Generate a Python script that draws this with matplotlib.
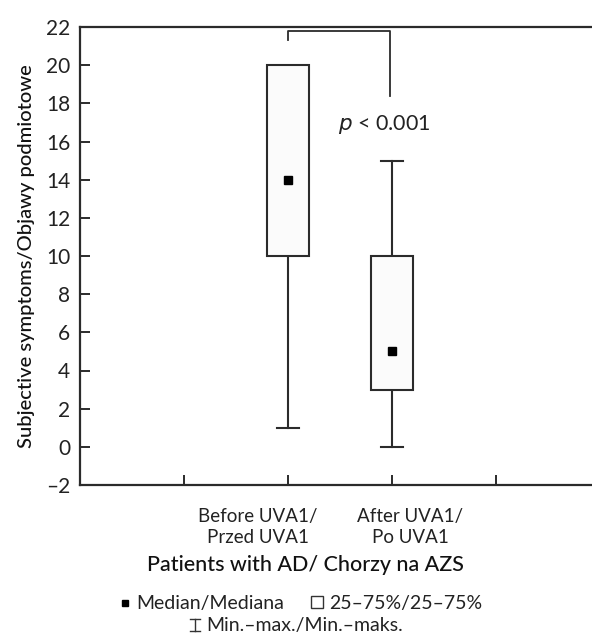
import matplotlib
matplotlib.use("Agg")
import matplotlib.pyplot as plt
import matplotlib.transforms as mtrans
from matplotlib.lines import Line2D
from matplotlib.patches import Rectangle

plt.rcParams['font.family'] = ['Lato', 'DejaVu Sans']

# ---- data ----
categories = ["Before UVA1/\nPrzed UVA1", "After UVA1/\nPo UVA1"]
positions = [2, 3]
q1 = [10, 3]
q3 = [20, 10]
medians = [14, 5]
mins = [1, 0]
maxs = [20, 15]
p_text = "$\\it{p}$ < 0.001"
yticks = list(range(-2, 23, 2))
xticks = [1, 2, 3, 4]

W, H = 592, 639
fig = plt.figure(figsize=(W / 100, H / 100), dpi=100)
ax = fig.add_axes([80 / W, 1 - 485 / H, (W - 80) / W, (485 - 27) / H])

col = "#2b2b2b"
box_w = 0.40
cap_w = 0.21
for x, a, b, m, lo, hi in zip(positions, q1, q3, medians, mins, maxs):
    ax.add_patch(Rectangle((x - box_w / 2, a), box_w, b - a, facecolor="#fbfbfb",
                           edgecolor=col, lw=1.5, zorder=2))
    if lo < a:
        ax.plot([x, x], [lo, a], color=col, lw=1.5, zorder=1)
        ax.plot([x - cap_w / 2, x + cap_w / 2], [lo, lo], color=col, lw=1.5)
    if hi > b:
        ax.plot([x, x], [b, hi], color=col, lw=1.5, zorder=1)
        ax.plot([x - cap_w / 2, x + cap_w / 2], [hi, hi], color=col, lw=1.5)
    ax.plot([x], [m], marker="s", color="black", markersize=6, zorder=3)

# significance bracket
ax.plot([positions[0], positions[0], positions[1] - 0.02, positions[1] - 0.02],
        [21.3, 21.8, 21.8, 18.4], color=col, lw=1.3, clip_on=False)
ax.text(2.93, 16.9, p_text, ha="center", va="center", fontsize=15.5, color="#222222")

ax.set_xlim(0, (W - 80) / 104)
ax.set_ylim(-2, 22)
ax.set_yticks(yticks)
ax.set_yticklabels([str(v) if v >= 0 else "\u2013" + str(-v) for v in yticks])
ax.set_xticks(xticks)
ax.set_xticklabels([])
ax.tick_params(axis="both", direction="in", length=7, width=1.4, color=col,
               labelsize=15, labelcolor="#222222")
ax.tick_params(axis="y", pad=7)
for s in ["left", "bottom", "top"]:
    ax.spines[s].set_linewidth(1.6)
    ax.spines[s].set_color(col)
ax.spines["right"].set_visible(False)

# category labels
offsets = [-30, 18]
for x, lab, dx in zip(positions, categories, offsets):
    tr = ax.get_xaxis_transform() + mtrans.ScaledTranslation(dx / 100, 0, fig.dpi_scale_trans)
    ax.text(x, -0.05, lab, transform=tr, ha="center", va="top", fontsize=13.5,
            color="#222222", linespacing=1.3)

ax.set_ylabel("Subjective symptoms/Objawy podmiotowe", fontsize=14.5, color="#111111",
              labelpad=8, fontweight="medium")

fig.text(305 / W, 1 - 565 / H, "Patients with AD/ Chorzy na AZS", ha="center",
         va="center", fontsize=15.5, color="#111111", fontweight="medium")

# legend (manual)
fig.add_artist(Line2D([125 / W], [1 - 603 / H], marker="s", color="black",
                      markersize=4.5, linestyle="none"))
fig.text(136 / W, 1 - 603 / H, "Median/Mediana", ha="left", va="center",
         fontsize=14, color="#222222")
fig.add_artist(Line2D([317 / W], [1 - 602 / H], marker="s", markerfacecolor="white",
                      markeredgecolor="#333333", markeredgewidth=1.0,
                      markersize=9, linestyle="none"))
fig.text(329 / W, 1 - 603 / H, "25\u201375%/25\u201375%", ha="left", va="center",
         fontsize=14, color="#222222")
# I-beam symbol
cx, cy = 195, 625
fig.add_artist(Line2D([(cx - 5) / W, (cx + 5) / W], [1 - (cy - 6) / H] * 2, color="#333333", lw=1))
fig.add_artist(Line2D([(cx - 5) / W, (cx + 5) / W], [1 - (cy + 6) / H] * 2, color="#333333", lw=1))
fig.add_artist(Line2D([cx / W, cx / W], [1 - (cy - 6) / H, 1 - (cy + 6) / H], color="#333333", lw=1))
fig.text(206 / W, 1 - 625 / H, "Min.\u2013max./Min.\u2013maks.", ha="left", va="center",
         fontsize=14, color="#222222")

fig.savefig("out.png", dpi=100)
